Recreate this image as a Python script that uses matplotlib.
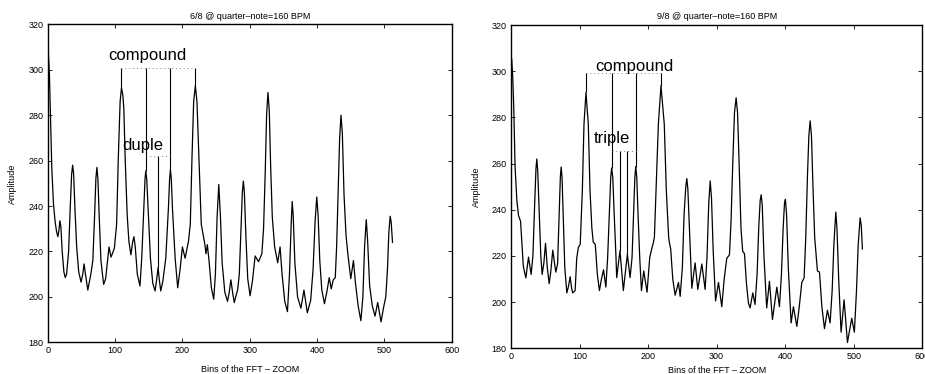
import matplotlib
matplotlib.use("Agg")
import matplotlib.pyplot as plt

plt.rcParams['font.family'] = ['Liberation Sans', 'DejaVu Sans']

# 6/8 panel: FFT zoom curve (bin, amplitude)
bins_68 = [0, 1, 2.5, 4, 6, 8.5, 11, 13, 15, 16.5, 18, 19.5, 21.5, 24, 26, 28, 31, 33.5, 35.5, 37,
           38.5, 40.5, 43, 46, 49.5, 52, 54, 56, 59.5, 62, 64, 67, 69.5, 71.5, 73, 74.5, 76.5, 79, 83, 86,
           88.5, 91, 94, 96, 99, 102.3, 104.8, 107.5, 109.5, 111.5, 113, 115, 118, 120.5, 123.5, 126, 128,
           130, 133, 137, 139.6, 142.6, 144.5, 145.6, 147, 149, 152.5, 156, 159.4, 161.5, 163.9, 165.5,
           167.8, 171, 175.3, 179.2, 181, 182.2, 183.5, 185.2, 189.2, 193, 196.5, 200, 204, 209, 211.7,
           214.2, 216.7, 219.2, 221.6, 224.6, 228, 233.4, 235, 237, 239.5, 243, 246.5, 249, 251.5, 254,
           256.5, 259, 263, 267, 269.5, 272, 274.5, 277, 280, 282, 284.5, 287, 289, 290.5, 292, 294.5,
           297, 300.5, 304, 308, 313, 318, 320.5, 323, 325, 327, 329, 331, 333.5, 337, 341.5, 345, 348,
           352, 356, 359, 361.5, 363, 364.5, 367, 371, 376, 380.5, 385.5, 390.5, 394, 397, 399.5, 401.5,
           404, 407, 411, 415, 418, 421, 424, 427, 429, 431.5, 433.5, 435.5, 437.5, 440, 443, 446, 450,
           454, 457, 461, 465, 468, 470.5, 473, 475, 478, 482, 486, 490, 495, 498.5, 502, 504.5, 506.5,
           508.5, 510, 512]
amp_68 = [300, 307, 298, 280, 257, 241, 233, 229, 226.5, 229, 233.5, 231, 220, 211, 208.5, 210, 220, 240, 254, 258,
          254, 238, 222, 211, 206.5, 210, 214.5, 210, 203, 207, 210, 216, 235, 252, 257, 252, 235, 216, 205.5, 208,
          215, 222, 217.5, 219, 221.5, 232, 261, 286, 292, 289, 283, 261, 236, 224.5, 218.5, 224, 226.5,
          222, 210, 204.8, 217, 239, 252, 255.4, 252, 239, 217, 206, 202.6, 207, 213, 208,
          202.6, 207, 217, 239, 252, 256, 252, 239, 217, 204, 212, 222, 217, 224.5, 232,
          261, 286, 293, 286, 261, 232, 223, 219, 223, 216, 204, 199, 210, 235, 249.5,
          235, 215, 202, 198, 202, 207.5, 202, 197.5, 201, 203, 210, 230, 246, 251, 246, 225,
          208, 200.5, 207, 218, 215.5, 219, 230, 255, 280, 290, 282, 258, 235, 222, 215, 222, 210,
          198, 193.5, 210, 232, 242, 236, 215, 200, 195, 203, 193, 198.5, 212, 233, 244, 236,
          216, 203, 197, 203, 208.5, 203.5, 207.5, 208.5, 222, 248, 270, 280, 272, 245, 227, 218, 208,
          216, 206, 196, 189.5, 200, 222, 234, 225, 205, 196, 191.5, 197.5, 189, 195, 200, 212, 228,
          235.5, 233, 224]

# 9/8 panel
bins_98 = [0, 1, 2.5, 4, 6, 8.6, 11, 14, 16, 18, 21.7, 25.6, 29.4, 32, 34.5, 36.5, 37.7, 39, 41, 43.5,
           45.5, 48, 50.4, 53, 55.7, 58, 61, 63, 65.4, 68, 70, 72, 73.2, 74.5, 76.5, 78.5, 81.5, 84, 86.3,
           88.5, 90, 93.6, 95.9, 98.3, 101, 104.1, 106.5, 109.4, 112.8, 115.3, 118, 120, 123, 126, 129,
           132, 135, 138.4, 141, 143.9, 145.5, 146.9, 148.5, 150.2, 153.2, 154.2, 159, 163.9, 169.8,
           173.7, 176.6, 179.1, 180.7, 182, 183.5, 185, 187.8, 190.3, 193.7, 198.5, 202.4, 205.8, 207.3,
           209.2, 211.6, 215, 218.8, 223.6, 226.6, 230, 231, 233, 236, 239.5, 244.3, 246.8, 250, 252.5,
           255, 256.5, 258, 260.5, 263.8, 268.6, 272.5, 278.4, 283.2, 286, 288.5, 290.6, 292.5, 295,
           298.4, 302.7, 307.5, 311, 314.8, 318.7, 321, 323.5, 326, 328.4, 330.5, 333, 335.5, 338, 340.6,
           343.5, 346.4, 348.8, 352.7, 356, 359, 361.5, 363.5, 365, 366.5, 369, 373, 377, 381.4, 387.8,
           391.6, 394.5, 397, 399, 400.3, 402, 404.5, 408.6, 412, 417, 420.5, 424.2, 427.6, 430, 432.5,
           434.5, 436.4, 438.3, 440.5, 443, 447, 450, 453.5, 457.3, 461.6, 465.5, 468.5, 471, 473.8,
           475.5, 478, 481.5, 485.9, 490.8, 497, 500.9, 504, 506.5, 509.3, 511, 512.6]
amp_98 = [298, 305.5, 298, 285, 258.5, 244, 237.5, 235, 225, 215.5, 210.5, 219.5, 212, 220, 242, 258, 262, 257, 240, 220,
          212, 217, 225.5, 215, 208, 213, 222.5, 218, 213, 216.5, 235, 254, 258.5, 254, 235, 215, 204, 207, 211,
          206, 204, 205, 219, 223.7, 225, 248.3, 277, 290.8, 277, 248.3, 232, 226, 225, 212, 205,
          210, 214, 206.5, 219.3, 240.9, 254, 258.1, 254, 240.9, 219.3, 210.6, 222.2, 205, 220.7,
          210.6, 219.3, 240.9, 254, 258.7, 254, 240.9, 219.3, 205, 213.5, 204.3, 219.3, 223.7, 225.2,
          228.1, 248.3, 277.1, 293.7, 277.1, 248.3, 228.1, 225.9, 223, 210, 203, 208.5, 202.5, 215, 238,
          250, 253.5, 249, 230, 206, 217, 205.5, 216.5, 205.5, 220, 243, 252.5, 245, 222,
          200.5, 208.5, 198, 210, 219, 220.5, 235, 260, 282, 288.5, 282, 258, 232, 222, 221,
          208, 199.5, 197.5, 204, 199, 212, 233, 244, 246.5, 242, 220, 197.5, 209, 192.5, 206.5,
          198, 212, 232, 243, 244.5, 238, 215, 191, 198, 189.5, 198, 208.5, 210.5, 228, 255,
          272, 278.5, 272, 250, 228, 213.5, 213, 198, 188.5, 196.5, 191, 205, 225, 239,
          232, 210, 187, 201, 182.5, 193, 187, 205, 225, 236.5, 233, 223]

# annotation markers (bin positions, curve value at the bottom of each stem, top level)
comp_x_68 = [109.5, 145.6, 182.2, 219.2]
comp_base_68 = [292, 255.4, 256, 293]
comp_top_68 = 301
sub_x_68 = [163.9]
sub_base_68 = [213]
sub_top_68 = 262.2

comp_x_98 = [109.4, 146.9, 182, 218.8]
comp_base_98 = [290.8, 258.1, 258.7, 293.7]
comp_top_98 = 299.1
sub_x_98 = [159, 169.8]
sub_base_98 = [222.2, 220.7]
sub_top_98 = 265.6

fig = plt.figure(figsize=(9.25, 3.74), dpi=100)
ax1 = fig.add_axes([0.0516, 0.0848, 0.4368, 0.850])
ax2 = fig.add_axes([0.5524, 0.0687, 0.4447, 0.8644])


def draw_panel(ax, xs, ys, title, cx, cbase, ctop, sx, sbase, stop, ctext, cpos, stext, spos):
    ax.plot(xs, ys, color='black', lw=0.9)

    # compound stems + dotted bar
    ax.vlines(cx, cbase, ctop, color='black', lw=0.8)
    ax.plot([cx[0], cx[-1]], [ctop, ctop], color='gray', lw=0.7, ls=(0, (1, 3)))
    ax.text(cpos[0], cpos[1], ctext, fontsize=12, ha='left', va='baseline')

    # duple / triple stems + dotted bar
    ax.vlines(sx, sbase, stop, color='black', lw=0.8)
    ax.plot([cx[1], cx[2]], [stop, stop], color='gray', lw=0.7, ls=(0, (1, 3)))
    ax.text(spos[0], spos[1], stext, fontsize=12, ha='left', va='baseline')

    ax.set_xlim(0, 600)
    ax.set_ylim(180, 320)
    ax.set_xticks(range(0, 601, 100))
    ax.set_yticks(range(180, 321, 20))
    ax.tick_params(direction='in', top=True, right=True, length=3, width=0.6,
                   labelsize=6.5, pad=3)
    for s in ax.spines.values():
        s.set_linewidth(1.0)
    ax.set_title(title, fontsize=6.5, pad=4)
    ax.set_xlabel('Bins of the FFT – ZOOM', fontsize=6.5, labelpad=7)
    ax.set_ylabel('Amplitude', fontsize=6.5, labelpad=8)


draw_panel(ax1, bins_68, amp_68, '6/8 @ quarter–note=160 BPM',
           comp_x_68, comp_base_68, comp_top_68, sub_x_68, sub_base_68, sub_top_68,
           'compound', (90, 304.1), 'duple', (111, 264.7))
draw_panel(ax2, bins_98, amp_98, '9/8 @ quarter–note=160 BPM',
           comp_x_98, comp_base_98, comp_top_98, sub_x_98, sub_base_98, sub_top_98,
           'compound', (122.8, 300.2), 'triple', (121.3, 268.8))
ax2.xaxis.labelpad = 3

fig.savefig('out.png', dpi=100)
